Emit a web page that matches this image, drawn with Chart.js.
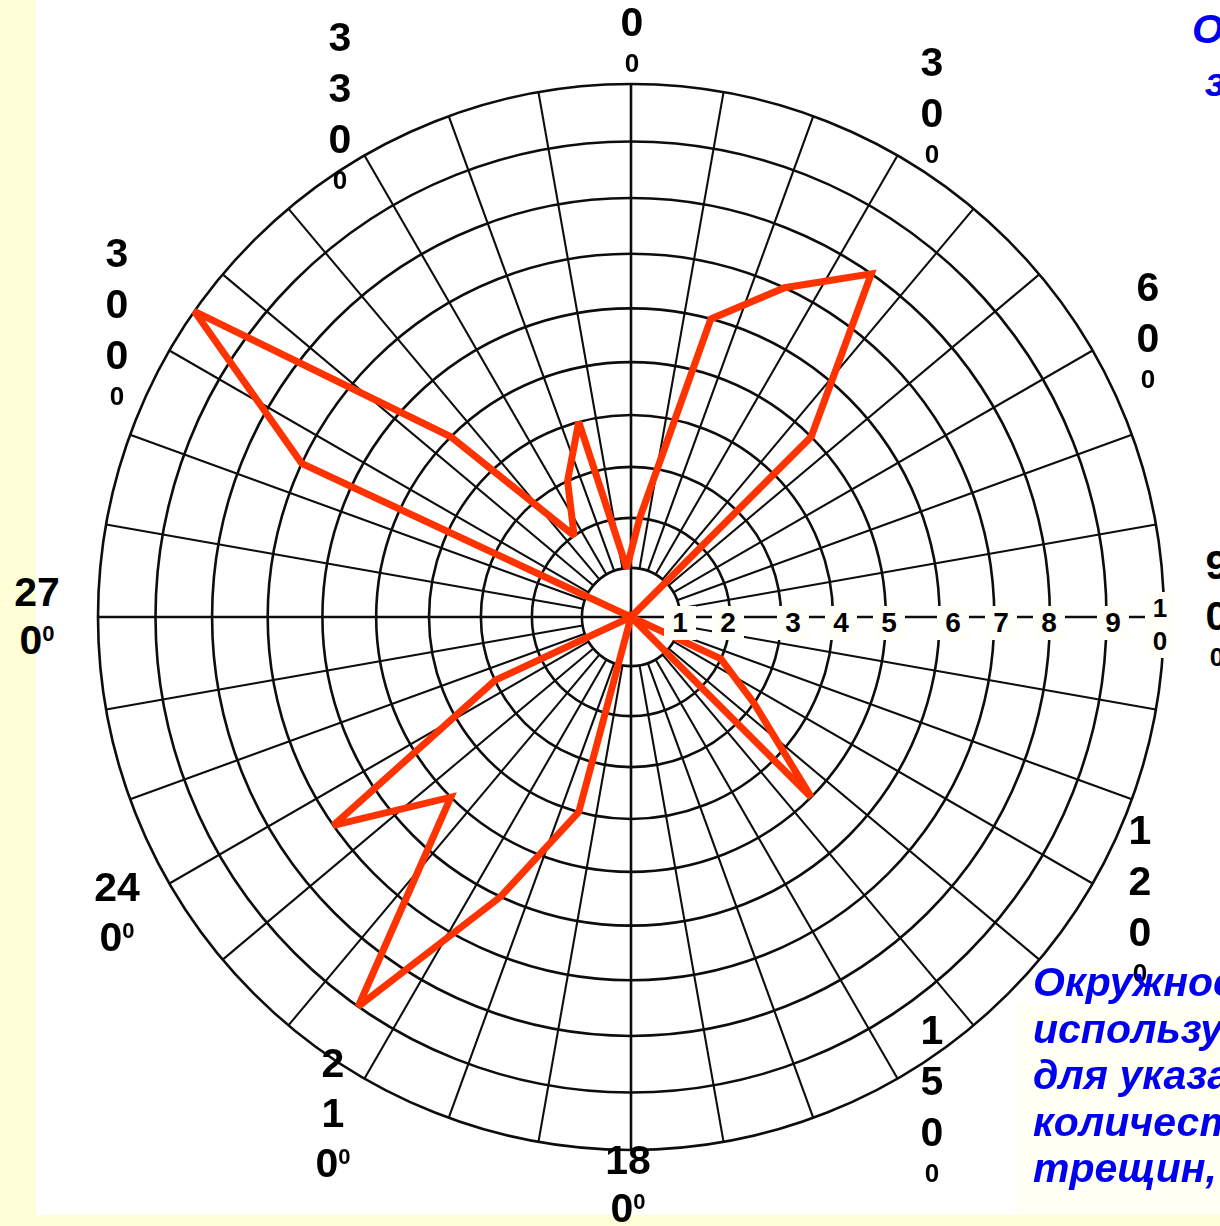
<!DOCTYPE html>
<html lang="ru">
<head>
<meta charset="utf-8">
<title>Роза-диаграмма трещиноватости</title>
<script src="https://cdn.jsdelivr.net/npm/chart.js@4.4.1/dist/chart.umd.min.js"></script>
<style>
  html, body { margin: 0; padding: 0; }
  body {
    position: relative; width: 1220px; height: 1226px; overflow: hidden;
    background: #fff; font-family: "Liberation Sans", Arial, sans-serif;
  }
  .strip-left   { position: absolute; left: 0; top: 0; width: 36px; height: 1226px; background: #ffffd7; }
  .strip-bottom { position: absolute; left: 0; top: 1215px; width: 1220px; height: 11px; background: #ffffd7; }
  .note-box     { position: absolute; left: 1015px; top: 1005px; width: 205px; height: 210px; background: #fffff3; }

  #rose-wrap { position: absolute; left: 78px; top: 64px; width: 1106px; height: 1106px; }

  /* degree labels round the net */
  .deg {
    position: absolute; transform: translateX(-50%);
    font-weight: 700; font-size: 41px; line-height: 51px;
    color: #000; text-align: center; white-space: nowrap;
  }
  .deg .s   { display: block; font-size: 26px; line-height: 30px; }
  .deg sup  { font-size: 22px; line-height: 0; vertical-align: 13px; }
  .deg.tight { line-height: 48px; }
  .deg.mid   { line-height: 50px; }

  /* ring numbers on the east axis */
  .ring {
    position: absolute; top: 606px; width: 32px; height: 34px; transform: translateX(-50%);
    background: #fffff8; font-weight: 700; font-size: 28px; line-height: 34px;
    text-align: center; color: #000;
  }
  .ring.ten { top: 592px; height: 66px; width: 30px; line-height: 33px; font-size: 26px; }

  .blue {
    position: absolute; color: #0000f0; font-weight: 700; font-style: italic;
    font-size: 41px; line-height: 46.5px; white-space: nowrap;
  }
</style>
</head>
<body>
  <div class="strip-left"></div>
  <div class="strip-bottom"></div>
  <div class="note-box"></div>

  <div id="rose-wrap"><canvas id="chart-rose" width="1106" height="1106"></canvas></div>

  <div class="deg" style="left:632px;top:-3px">0<span class="s">0</span></div>
  <div class="deg" style="left:932px;top:37px">3<br>0<span class="s">0</span></div>
  <div class="deg" style="left:1148px;top:262px">6<br>0<span class="s">0</span></div>
  <div class="deg" style="left:1217px;top:540px">9<br>0<span class="s">0</span></div>
  <div class="deg" style="left:1140px;top:805px">1<br>2<br>0<span class="s">0</span></div>
  <div class="deg" style="left:932px;top:1005px">1<br>5<br>0<span class="s">0</span></div>
  <div class="deg tight" style="left:628px;top:1136px">18<br>0<sup>0</sup></div>
  <div class="deg mid" style="left:333px;top:1038px">2<br>1<br>0<sup>0</sup></div>
  <div class="deg mid" style="left:117px;top:862px">24<br>0<sup>0</sup></div>
  <div class="deg tight" style="left:37px;top:568px">27<br>0<sup>0</sup></div>
  <div class="deg" style="left:117px;top:228px">3<br>0<br>0<span class="s">0</span></div>
  <div class="deg" style="left:340px;top:12px">3<br>3<br>0<span class="s">0</span></div>

  <div id="ring-labels"></div>

  <div class="blue" style="left:1192px;top:6px">Ориентировка</div>
  <div class="blue" style="left:1205px;top:59px">залегания</div>
  <div class="blue" style="left:1033px;top:959px">Окружности<br>используются<br>для указания<br>количества<br>трещин,</div>

<script>
/* ============================================================
   rose.js — crack rose diagram (polar net, 10° sectors)
   ============================================================ */

/* ── Data ───────────────────────────────────────────────────── */
/* sectors are plotted at their middle: 5°, 15°, ... 355° */
const SECTOR_LABELS = [
  '5°', '15°', '25°', '35°', '45°', '55°', '65°', '75°', '85°',
  '95°', '105°', '115°', '125°', '135°', '145°', '155°', '165°', '175°',
  '185°', '195°', '205°', '215°', '225°', '235°', '245°', '255°', '265°',
  '275°', '285°', '295°', '305°', '315°', '325°', '335°', '345°', '355°',
];
const CRACK_COUNTS = [
  2, 6, 7, 8, 5, 0, 0, 0, 0,
  0, 0, 2, 3, 5, 0, 0, 0, 0,
  0, 4, 6, 9, 5, 7, 3, 0, 0,
  0, 0, 7, 10, 5, 2, 3, 4, 1,
];
const RING_TICKS   = ['1', '2', '3', '4', '5', '6', '7', '8', '9', '10'];
const SPOKE_ANGLES = [
  0, 10, 20, 30, 40, 50, 60, 70, 80, 90, 100, 110,
  120, 130, 140, 150, 160, 170, 180, 190, 200, 210, 220, 230,
  240, 250, 260, 270, 280, 290, 300, 310, 320, 330, 340, 350,
];

/* ── Rings of the printed net widen a little outward ────────── */
const RING_GROWTH = 0.0096;

class RoseScale extends Chart.RadialLinearScale {
  getDistanceFromCenterForValue(value) {
    if (value === null || value === undefined || isNaN(value)) return 0;
    const f = v => v + RING_GROWTH * v * v;
    return this.drawingArea * f(value - this.min) / f(this.max - this.min);
  }
}
RoseScale.id = 'rose';
RoseScale.defaults = Chart.RadialLinearScale.defaults;
Chart.register(RoseScale);

/* ── Chart ──────────────────────────────────────────────────── */
const Rose = (() => {
  const GRID_COLOR = '#0d0d0d';
  const LINE_COLOR = '#ff3300';

  /* spokes every 10°: main axes from centre, the rest from ring 1 */
  const spokesPlugin = {
    id: 'roseSpokes',
    beforeDatasetsDraw(chart) {
      const sc    = chart.scales.r;
      const ctx   = chart.ctx;
      const inner = sc.getDistanceFromCenterForValue(1);
      const outer = sc.getDistanceFromCenterForValue(sc.max);
      ctx.save();
      ctx.strokeStyle = GRID_COLOR;
      SPOKE_ANGLES.forEach(deg => {
        const a    = deg * Math.PI / 180 - Math.PI / 2;
        const from = deg % 90 === 0 ? 0 : inner;
        ctx.lineWidth = deg % 90 === 0 ? 2.6 : 2.1;
        ctx.beginPath();
        ctx.moveTo(sc.xCenter + Math.cos(a) * from,  sc.yCenter + Math.sin(a) * from);
        ctx.lineTo(sc.xCenter + Math.cos(a) * outer, sc.yCenter + Math.sin(a) * outer);
        ctx.stroke();
      });
      ctx.restore();
      /* the red outline keeps short, blunt tips */
      ctx.save();
      ctx.miterLimit = 2.6;
    },
    afterDatasetsDraw(chart) {
      chart.ctx.restore();
    },
  };

  function _ringLabels() {
    const host = document.getElementById('ring-labels');
    const xs   = [680, 728, 793, 841, 889, 953, 1001, 1049, 1113, 1160];
    host.innerHTML = RING_TICKS.map((t, i) => t.length > 1
      ? `<div class="ring ten" style="left:${xs[i]}px">${t[0]}<br>${t[1]}</div>`
      : `<div class="ring" style="left:${xs[i]}px">${t}</div>`).join('');
  }

  function render() {
    const canvas = document.getElementById('chart-rose');
    new Chart(canvas, {
      type: 'radar',
      data: {
        labels: SECTOR_LABELS,
        datasets: [{
          label: 'Трещины',
          data: CRACK_COUNTS,
          borderColor: LINE_COLOR,
          backgroundColor: 'transparent',
          borderWidth: 7,
          borderJoinStyle: 'miter',
          pointRadius: 0,
          fill: false,
          tension: 0,
        }],
      },
      options: {
        responsive: false,
        animation: false,
        layout: { padding: 20 },
        plugins: { legend: { display: false }, tooltip: { enabled: false } },
        scales: {
          r: {
            type: 'rose',
            min: 0,
            max: 10,
            startAngle: 5,
            ticks: { stepSize: 1, display: false },
            grid: { circular: true, color: GRID_COLOR, lineWidth: 2.6 },
            angleLines: { display: false },
            pointLabels: { display: false },
          },
        },
      },
      plugins: [spokesPlugin],
    });
    _ringLabels();
  }

  return { render };
})();

Rose.render();
</script>
</body>
</html>
